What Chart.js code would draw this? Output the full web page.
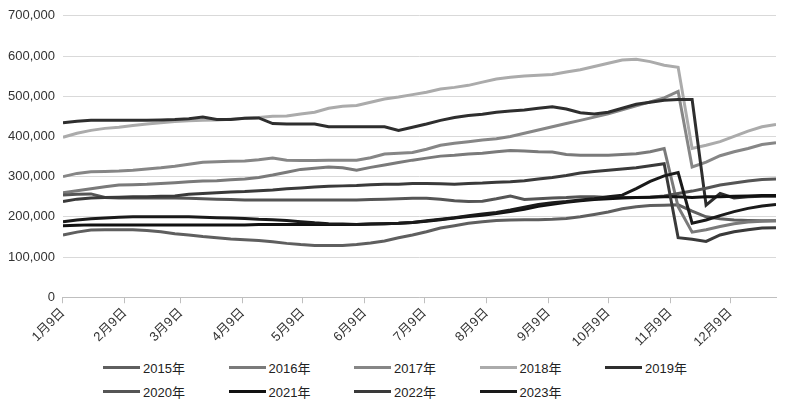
<!DOCTYPE html>
<html>
<head>
<meta charset="utf-8">
<script src="https://cdn.jsdelivr.net/npm/chart.js@4.4.1/dist/chart.umd.min.js"></script>
<style>
  html, body { margin: 0; padding: 0; background: #fff; }
  #wrap { position: relative; width: 788px; height: 409px; }
  #chart-box { position: absolute; left: 0; top: 0; width: 788px; height: 352px; }
  #legend {
    position: absolute; left: 103px; top: 358px;
    display: grid; grid-template-columns: repeat(5, 125.5px); row-gap: 5px;
    font: 13px 'Liberation Sans', 'Noto Sans CJK SC', sans-serif; color: #222;
  }
  .item { display: flex; align-items: center; height: 19px; white-space: nowrap; }
  .swatch { width: 37px; height: 3px; margin-right: 3px; }
</style>
</head>
<body>
<div id="wrap">
  <div id="chart-box"><canvas id="chart"></canvas></div>
  <div id="legend"></div>
</div>
<script>
// x positions: days after Jan 9, one reading per week
const days = [0, 7, 14, 21, 28, 35, 42, 49, 56, 63, 70, 77, 84, 91, 98, 105, 112, 119, 126, 133,
  140, 147, 154, 161, 168, 175, 182, 189, 196, 203, 210, 217, 224, 231, 238, 245, 252, 259, 266, 273,
  280, 287, 294, 301, 308, 315, 322, 329, 336, 343, 350, 357];

const tickDays = [0, 31, 59, 90, 120, 151, 181, 212, 243, 273, 304, 334];
const tickLabels = ['1月9日', '2月9日', '3月9日', '4月9日', '5月9日', '6月9日',
  '7月9日', '8月9日', '9月9日', '10月9日', '11月9日', '12月9日'];

const years = ['2015年', '2016年', '2017年', '2018年', '2019年', '2020年', '2021年', '2022年', '2023年'];
const colors = ['#5f5f5f', '#7a7a7a', '#868686', '#ababab', '#2e2e2e', '#555555', '#111111', '#3a3a3a', '#1a1a1a'];

// values in thousands
const UNIT = 1000;
const y2015 = [155, 162, 167, 168, 168, 168, 166, 163, 158, 155, 151, 148, 145, 143, 141, 138, 134, 131, 129, 129,
  129, 131, 135, 140, 148, 155, 163, 172, 178, 184, 188, 191, 192, 193, 193, 194, 196, 200, 206, 212,
  220, 225, 228, 229, 230, 214, 200, 195, 192, 191, 190, 190];
const y2016 = [260, 265, 270, 275, 279, 280, 281, 283, 285, 287, 289, 290, 292, 294, 298, 304, 311, 318, 321, 324,
  322, 316, 323, 329, 335, 341, 346, 351, 353, 356, 358, 362, 365, 364, 362, 361, 355, 353, 353, 353,
  355, 357, 362, 370, 225, 162, 168, 176, 183, 187, 189, 190];
const y2017 = [300, 308, 312, 313, 314, 316, 319, 322, 326, 331, 336, 337, 338, 339, 342, 346, 341, 340, 340, 341,
  341, 341, 347, 356, 358, 360, 368, 378, 383, 387, 391, 394, 400, 408, 416, 424, 432, 440, 448, 456,
  466, 476, 486, 496, 512, 324, 336, 352, 362, 370, 380, 384];
const y2018 = [398, 408, 415, 420, 423, 427, 431, 434, 437, 439, 440, 441, 443, 445, 447, 450, 451, 456, 460, 470,
  475, 477, 485, 493, 498, 504, 510, 518, 522, 527, 535, 543, 547, 550, 552, 554, 560, 566, 574, 582,
  590, 592, 586, 577, 572, 370, 378, 387, 400, 413, 424, 430];
const y2019 = [434, 438, 440, 440, 440, 440, 440, 441, 442, 444, 448, 442, 442, 445, 446, 432, 431, 431, 431, 424,
  424, 424, 424, 424, 415, 423, 431, 440, 447, 452, 455, 460, 463, 466, 470, 474, 468, 459, 456, 460,
  470, 480, 485, 490, 492, 492, 229, 258, 247, 250, 251, 251];
const y2020 = [254, 256, 257, 248, 247, 247, 247, 247, 247, 246, 245, 244, 243, 242, 242, 242, 242, 242, 242, 242,
  242, 242, 243, 244, 245, 246, 246, 244, 240, 238, 239, 245, 252, 243, 245, 247, 248, 250, 250, 248,
  248, 248, 249, 252, 258, 264, 271, 279, 284, 289, 293, 294];
const y2021 = [178, 179, 180, 180, 180, 180, 180, 180, 180, 180, 180, 180, 180, 180, 181, 181, 181, 181, 181, 181,
  181, 181, 182, 183, 184, 186, 189, 193, 197, 201, 204, 208, 213, 219, 226, 231, 236, 240, 243, 245,
  247, 248, 249, 250, 250, 248, 250, 250, 251, 252, 253, 253];
const y2022 = [238, 244, 247, 248, 249, 250, 250, 251, 252, 256, 258, 260, 262, 263, 265, 267, 270, 272, 274, 276,
  277, 278, 280, 281, 281, 283, 283, 282, 281, 283, 284, 286, 287, 290, 294, 298, 303, 309, 313, 316,
  319, 322, 327, 332, 148, 144, 139, 155, 163, 168, 172, 173];
const y2023 = [188, 192, 195, 197, 199, 200, 200, 200, 200, 200, 199, 198, 197, 196, 194, 193, 191, 188, 185, 183,
  182, 181, 182, 183, 184, 186, 190, 194, 198, 203, 207, 211, 217, 224, 231, 235, 238, 242, 245, 250,
  254, 270, 288, 302, 310, 184, 192, 203, 213, 221, 227, 231];

const series = [y2015, y2016, y2017, y2018, y2019, y2020, y2021, y2022, y2023];

const datasets = series.map((vals, i) => ({
  label: years[i],
  data: vals.map((v, j) => ({ x: days[j], y: v * UNIT })),
  borderColor: colors[i],
  backgroundColor: colors[i],
  borderWidth: 3,
  pointRadius: 0,
  tension: 0,
  order: series.length - i   // later years drawn on top, like the original
}));

const axisFont = { family: "'Liberation Sans', 'Noto Sans CJK SC', sans-serif", size: 13 };

const chart = new Chart(document.getElementById('chart'), {
  type: 'line',
  data: { datasets },
  options: {
    responsive: true,
    maintainAspectRatio: false,
    animation: false,
    layout: { padding: { left: 0, right: 12, top: 4, bottom: 0 } },
    plugins: { legend: { display: false }, tooltip: { enabled: false } },
    scales: {
      x: {
        type: 'linear', min: 0, max: 357,
        afterBuildTicks: s => { s.ticks = tickDays.map(v => ({ value: v })); },
        ticks: {
          autoSkip: false, minRotation: 45, maxRotation: 45, padding: 2,
          color: '#333', font: { ...axisFont, size: 13 },
          callback: v => tickLabels[tickDays.indexOf(v)]
        },
        grid: { drawOnChartArea: false, drawTicks: true, tickLength: 6, color: '#bfbfbf' },
        border: { color: '#bfbfbf' }
      },
      y: {
        min: 0, max: 700000,
        ticks: {
          stepSize: 100000, padding: 8, color: '#333', font: axisFont,
          callback: v => v.toLocaleString('en-US')
        },
        grid: { drawTicks: false, color: '#d9d9d9' },
        border: { display: false }
      }
    }
  }
});

// legend as two rows of five columns
const legendEl = document.getElementById('legend');
chart.data.datasets.forEach(ds => {
  const item = document.createElement('div');
  item.className = 'item';
  item.innerHTML = '<span class="swatch" style="background:' + ds.borderColor + '"></span><span>' + ds.label + '</span>';
  legendEl.appendChild(item);
});
</script>
</body>
</html>
